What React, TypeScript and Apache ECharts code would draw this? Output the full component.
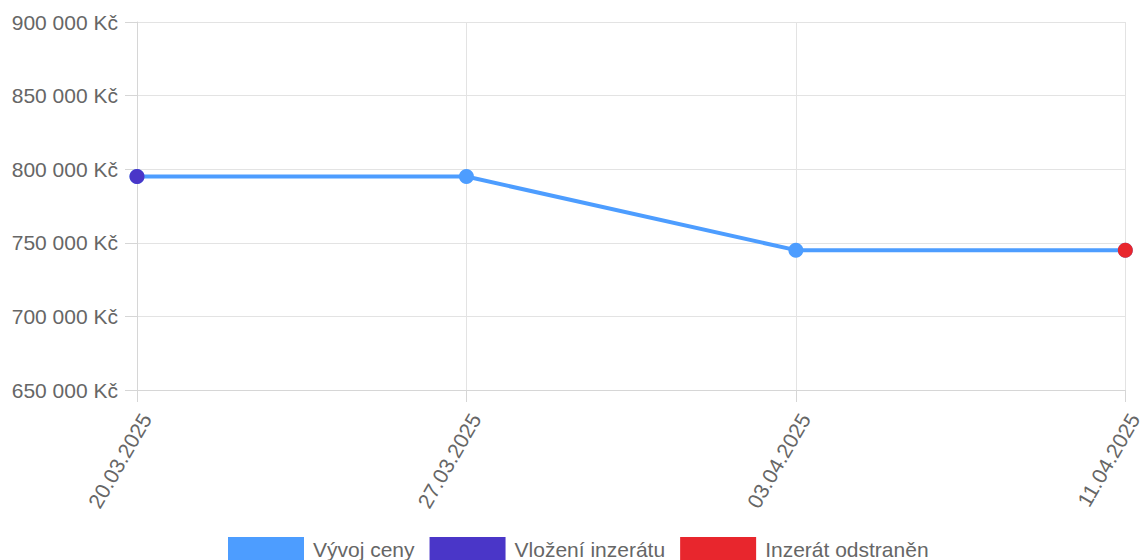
import React, { useEffect, useRef } from "react";
import * as echarts from "echarts";

const categories = ["20.03.2025", "27.03.2025", "03.04.2025", "11.04.2025"];
const priceValues = [795000, 795000, 745000, 745000];
const insertedValues = [795000, null, null, null];
const removedValues = [null, null, null, 745000];
const seriesNames = ["Vývoj ceny", "Vložení inzerátu", "Inzerát odstraněn"];

const fmt = (v: number) =>
  String(Math.round(v)).replace(/\B(?=(\d{3})+(?!\d))/g, " ") + " Kč";

export default function App() {
  const ref = useRef<HTMLDivElement>(null);
  useEffect(() => {
    if (!ref.current) return;
    const chart = echarts.init(ref.current, undefined, { renderer: "svg" });
    const font = "'Liberation Sans', Arial, sans-serif";
    chart.setOption({
      animation: false,
      textStyle: { fontFamily: font },
      grid: { left: 137, right: 18, top: 22, bottom: 170, containLabel: false },
      legend: {
        top: 537,
        left: 228,
        padding: 0,
        icon: "rect",
        itemWidth: 76,
        itemHeight: 24,
        itemGap: 15,
        textStyle: { color: "#666", fontSize: 21, fontFamily: font, padding: [0, 0, 0, 4] },
        data: seriesNames,
      },
      xAxis: {
        type: "category",
        data: categories,
        boundaryGap: false,
        axisLine: { show: true, lineStyle: { color: "#d6d6d6", width: 1 } },
        axisTick: { show: true, length: 12, alignWithLabel: true, lineStyle: { color: "#d6d6d6" } },
        splitLine: { show: true, lineStyle: { color: "#e3e3e3", width: 1 } },
        axisLabel: {
          rotate: 60,
          color: "#666",
          fontSize: 21,
          margin: 20,
          verticalAlign: "top",
          fontFamily: font,
        },
      },
      yAxis: {
        type: "value",
        min: 650000,
        max: 900000,
        interval: 50000,
        axisLine: { show: true, lineStyle: { color: "#d6d6d6", width: 1 } },
        axisTick: { show: true, length: 12, lineStyle: { color: "#d6d6d6" } },
        splitLine: { show: true, lineStyle: { color: "#e3e3e3", width: 1 } },
        axisLabel: { color: "#666", fontSize: 21, margin: 19, formatter: fmt, fontFamily: font },
      },
      series: [
        {
          name: seriesNames[0],
          type: "line",
          data: priceValues,
          color: "#4d9dff",
          lineStyle: { width: 4, color: "#4d9dff" },
          itemStyle: { color: "#4d9dff", opacity: 1 },
          symbol: "circle",
          symbolSize: 15,
          showSymbol: true,
          z: 2,
        },
        {
          name: seriesNames[1],
          type: "scatter",
          data: insertedValues,
          color: "#4a36c8",
          itemStyle: { color: "#4a36c8", opacity: 1 },
          symbol: "circle",
          symbolSize: 15,
          z: 3,
        },
        {
          name: seriesNames[2],
          type: "scatter",
          data: removedValues,
          color: "#e8262d",
          itemStyle: { color: "#e8262d", opacity: 1 },
          symbol: "circle",
          symbolSize: 15,
          z: 3,
        },
      ],
    });
    return () => chart.dispose();
  }, []);
  return <div ref={ref} style={{ width: 1145, height: 560, position: "absolute", left: 0, top: 0 }} />;
}
